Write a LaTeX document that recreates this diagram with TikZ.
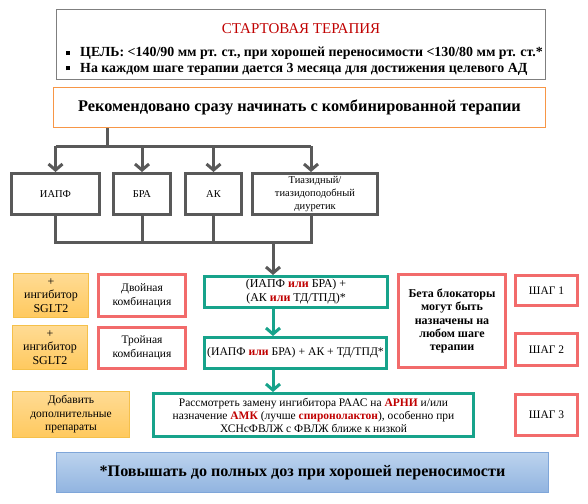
\documentclass[tikz,border=0pt]{standalone}
\usepackage{fontspec}
\setmainfont{Liberation Serif}
\usetikzlibrary{arrows.meta}
\definecolor{gline}{HTML}{595959}
\definecolor{tealc}{HTML}{17A38B}
\definecolor{pinkc}{HTML}{F26B6B}
\definecolor{dred}{HTML}{C00000}
\definecolor{orgb}{HTML}{F79646}
\definecolor{ytop}{HTML}{FFDB94}
\definecolor{ybot}{HTML}{FFC95E}
\definecolor{ydraw}{HTML}{F5C04A}
\definecolor{btop}{HTML}{BCD3EE}
\definecolor{bbot}{HTML}{91B4E0}
\definecolor{bdraw}{HTML}{7FA6D9}
\definecolor{topdraw}{HTML}{7F7F7F}
\newcommand{\rd}[1]{\textcolor{dred}{\textbf{#1}}}
\newcommand{\bsq}{\raisebox{1.7pt}{\rule{4pt}{4pt}}}
\begin{document}
\begin{tikzpicture}[x=1pt,y=-1pt,
  box/.style={align=center, inner sep=1pt},
  topbox/.style={box, draw=topdraw, line width=1.5pt, fill=white},
  orbox/.style={box, draw=orgb, line width=1.2pt, fill=white},
  graybox/.style={box, draw=gline, line width=3pt, fill=white, font=\fontsize{10.5}{13}\selectfont},
  tealbox/.style={box, draw=tealc, line width=3pt, fill=white},
  pinkbox/.style={box, draw=pinkc, line width=3pt, fill=white},
  ybox/.style={box, draw=ydraw, line width=1pt, top color=ytop, bottom color=ybot},
  bluebox/.style={box, draw=bdraw, line width=1pt, top color=btop, bottom color=bbot},
  gconn/.style={draw=gline, line width=3pt},
  garrow/.style={gconn, -{Straight Barb[length=6pt,width=14pt]}},
  tarrow/.style={draw=tealc, line width=3pt, -{Straight Barb[length=6pt,width=14pt]}}
]
\useasboundingbox[fill=white] (0,0) rectangle (588,503);

% top box
\node[topbox, minimum width=489pt, minimum height=70pt] (top) at (301,44.5) {};
\node[inner sep=0pt, text=dred, font=\fontsize{15}{17}\selectfont] (title) at (301,29) {СТАРТОВАЯ ТЕРАПИЯ};
\node[inner sep=0pt, anchor=west, font=\bfseries\fontsize{13.9}{15}\selectfont] (b1) at (66,53.5) {\bsq\hspace{10pt}ЦЕЛЬ: <140/90 мм рт. ст., при хорошей переносимости <130/80 мм рт. ст.*};
\node[inner sep=0pt, anchor=west, font=\bfseries\fontsize{13.9}{15}\selectfont] (b2) at (66,69) {\bsq\hspace{10pt}На каждом шаге терапии дается 3 месяца для достижения целевого АД};

% orange box
\node[orbox, minimum width=492pt, minimum height=40pt, font=\bfseries\fontsize{16.3}{18}\selectfont] (rec) at (299.5,107.5) {Рекомендовано сразу начинать с комбинированной терапии};

% gray boxes
\node[graybox, minimum width=88pt, minimum height=41pt] (iapf) at (55.5,194) {ИАПФ};
\node[graybox, minimum width=57pt, minimum height=41pt] (bra) at (142,194) {БРА};
\node[graybox, minimum width=56pt, minimum height=41pt] (ak) at (213.5,194) {АК};
\node[graybox, minimum width=125pt, minimum height=41pt] (tiaz) at (315,194) {Тиазидный/\\тиазидоподобный\\диуретик};

\coordinate (j1) at (107,146);
\coordinate (tzt) at (311,146);
\coordinate (j2) at (273,242);
\coordinate (tzb) at (311,242);

\draw[gconn] (rec.south -| j1) -- (j1);
\draw[gconn] (iapf.north |- j1) -- (tzt);
\draw[garrow] (iapf.north |- j1) -- (iapf.north);
\draw[garrow] (bra.north |- j1) -- (bra.north);
\draw[garrow] (ak.north |- j1) -- (ak.north);
\draw[garrow] (tzt) -- (tiaz.north -| tzt);

\draw[gconn] (iapf.south) -- (iapf.south |- j2) -- (tzb) -- (tiaz.south -| tzb);
\draw[gconn] (bra.south) -- (bra.south |- j2);
\draw[gconn] (ak.south) -- (ak.south |- j2);

% teal boxes
\node[tealbox, minimum width=183pt, minimum height=31pt, font=\fontsize{12}{14}\selectfont] (t1) at (296,292) {(ИАПФ \rd{или} БРА) +\\(АК \rd{или} ТД/ТПД)*};
\node[tealbox, minimum width=182pt, minimum height=31pt, font=\fontsize{11.7}{14}\selectfont] (t2) at (295.5,353) {(ИАПФ \rd{или} БРА) + АК + ТД/ТПД*};
\node[tealbox, minimum width=320pt, minimum height=43pt, font=\fontsize{11.5}{13}\selectfont] (t3) at (313.5,415) {Рассмотреть замену ингибитора РААС на \rd{АРНИ} и/или\\назначение \rd{АМК} (лучше \rd{спиронолактон}), особенно при\\ХСНсФВЛЖ с ФВЛЖ ближе к низкой};

\draw[garrow] (j2) -- (t1.north -| j2);
\draw[tarrow] (t1.south -| j2) -- (t2.north -| j2);
\draw[tarrow] (t2.south -| j2) -- (t3.north -| j2);

% left column
\node[ybox, minimum width=75pt, minimum height=44pt, font=\fontsize{12}{13.5}\selectfont] (sg1) at (51,295.5) {+\\ингибитор\\SGLT2};
\node[ybox, minimum width=75pt, minimum height=44pt, font=\fontsize{12}{13.5}\selectfont] (sg2) at (50,347.5) {+\\ингибитор\\SGLT2};
\node[ybox, minimum width=117pt, minimum height=46pt, font=\fontsize{11.5}{13.5}\selectfont] (dob) at (71,414.5) {Добавить\\дополнительные\\препараты};
\node[pinkbox, minimum width=87pt, minimum height=42pt, font=\fontsize{11.5}{14}\selectfont] (dv) at (142,295.5) {Двойная\\комбинация};
\node[pinkbox, minimum width=87pt, minimum height=41pt, font=\fontsize{11.5}{14}\selectfont] (tr) at (142,348) {Тройная\\комбинация};

% right column
\node[pinkbox, minimum width=107pt, minimum height=93pt, font=\bfseries\fontsize{12}{13.3}\selectfont] (beta) at (452,321) {Бета блокаторы\\могут быть\\назначены на\\любом шаге\\терапии};
\node[pinkbox, minimum width=62pt, minimum height=30pt, font=\fontsize{11.5}{13}\selectfont] (s1) at (546.5,290.5) {ШАГ 1};
\node[pinkbox, minimum width=62pt, minimum height=32pt, font=\fontsize{11.5}{13}\selectfont] (s2) at (546.5,349.5) {ШАГ 2};
\node[pinkbox, minimum width=62pt, minimum height=41pt, font=\fontsize{11.5}{13}\selectfont] (s3) at (546.5,415) {ШАГ 3};

% bottom blue box
\node[bluebox, minimum width=492pt, minimum height=40pt, font=\bfseries\fontsize{16.1}{19}\selectfont] (blue) at (302.5,472.5) {*Повышать до полных доз при хорошей переносимости};
\end{tikzpicture}
\end{document}
